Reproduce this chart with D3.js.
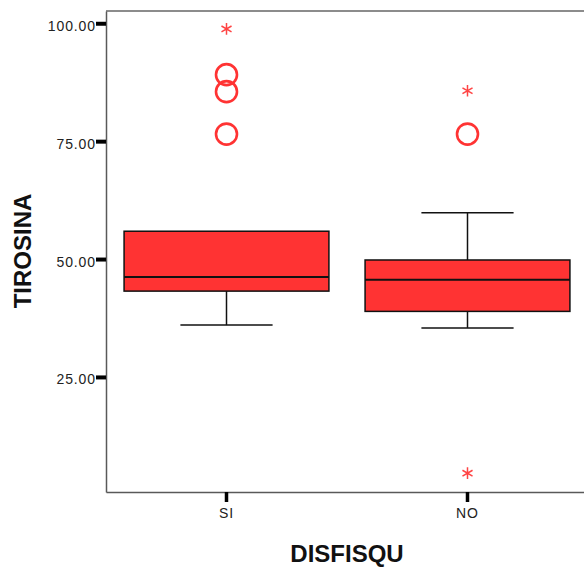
<!DOCTYPE html>
<html>
<head>
<meta charset="utf-8">
<script src="https://cdn.jsdelivr.net/npm/d3@7"></script>
<style>
  body { margin: 0; background: #fff; }
  svg { display: block; font-family: "Liberation Sans", Arial, sans-serif; }
</style>
</head>
<body>
<div id="chart"></div>
<script>
// box plot stats
const categories = ['SI', 'NO'];
const whiskerLow = [36.0, 35.4];
const q1 = [43.2, 38.9];
const median = [46.2, 45.6];
const q3 = [55.9, 49.8];
const whiskerHigh = [55.9, 59.8];
const outliers = [[89.1, 85.5, 76.5], [76.5]];   // circles
const extremes = [[98.8], [85.7, 4.6]];          // stars
const yTicks = [25, 50, 75, 100];

const width = 584, height = 568;
const plotLeft = 106, plotRight = 588, plotTop = 11, plotBottom = 492;
const red = '#ff3333';

const svg = d3.select('#chart').append('svg')
    .attr('width', width)
    .attr('height', height);

const xScale = d3.scaleBand()
    .domain(categories)
    .range([plotLeft, plotRight])
    .padding(0);

const yScale = d3.scaleLinear()
    .domain([0.6, 102.6])
    .range([plotBottom, plotTop]);

const boxW = xScale.bandwidth() * 0.85;
const capW = boxW * 0.45;

const boxes = categories.map((c, i) => ({
    cat: c, lo: whiskerLow[i], q1: q1[i], med: median[i], q3: q3[i], hi: whiskerHigh[i],
    out: outliers[i], ext: extremes[i]
}));

// frame
svg.append('line')
    .attr('x1', plotLeft).attr('x2', plotRight).attr('y1', plotTop).attr('y2', plotTop)
    .attr('stroke', '#666').attr('stroke-width', 1.5);

// y axis
const yAxis = svg.append('g')
    .attr('transform', 'translate(' + plotLeft + ',0)')
    .call(d3.axisLeft(yScale).tickValues(yTicks).tickFormat(d3.format('.2f')).tickSize(10).tickSizeOuter(0).tickPadding(0));
yAxis.select('.domain').attr('stroke', '#595959').attr('stroke-width', 1.5);
yAxis.selectAll('.tick line').attr('stroke', '#000').attr('stroke-width', 4);
yAxis.selectAll('.tick text')
    .attr('fill', '#222')
    .attr('dy', '0.5em')
    .style('font-size', '14px')
    .style('letter-spacing', '0.9px')
    .style('font-family', '"Liberation Sans", Arial, sans-serif');

// x axis
const xAxis = svg.append('g')
    .attr('transform', 'translate(0,' + plotBottom + ')')
    .call(d3.axisBottom(xScale).tickSize(10).tickSizeOuter(0).tickPadding(6));
xAxis.select('.domain').attr('stroke', '#595959').attr('stroke-width', 1.5);
xAxis.selectAll('.tick line').attr('stroke', '#000').attr('stroke-width', 3.5);
xAxis.selectAll('.tick text')
    .attr('fill', '#222')
    .style('font-size', '14px')
    .style('letter-spacing', '0.9px')
    .style('font-family', '"Liberation Sans", Arial, sans-serif');

// boxes
const g = svg.selectAll('.box')
    .data(boxes)
    .enter().append('g')
    .attr('class', 'box')
    .attr('transform', (d) => 'translate(' + (xScale(d.cat) + xScale.bandwidth() / 2) + ',0)');

g.append('line')
    .attr('x1', 0).attr('x2', 0)
    .attr('y1', (d) => yScale(d.hi)).attr('y2', (d) => yScale(d.lo))
    .attr('stroke', '#111').attr('stroke-width', 1.5);

g.filter((d) => d.hi > d.q3).append('line')
    .attr('x1', -capW / 2).attr('x2', capW / 2)
    .attr('y1', (d) => yScale(d.hi)).attr('y2', (d) => yScale(d.hi))
    .attr('stroke', '#111').attr('stroke-width', 1.5);

g.append('line')
    .attr('x1', -capW / 2).attr('x2', capW / 2)
    .attr('y1', (d) => yScale(d.lo)).attr('y2', (d) => yScale(d.lo))
    .attr('stroke', '#111').attr('stroke-width', 1.5);

g.append('rect')
    .attr('x', -boxW / 2)
    .attr('width', boxW)
    .attr('y', (d) => yScale(d.q3))
    .attr('height', (d) => yScale(d.q1) - yScale(d.q3))
    .attr('fill', red)
    .attr('stroke', '#111').attr('stroke-width', 1.5);

g.append('line')
    .attr('x1', -boxW / 2).attr('x2', boxW / 2)
    .attr('y1', (d) => yScale(d.med)).attr('y2', (d) => yScale(d.med))
    .attr('stroke', '#111').attr('stroke-width', 2);

// outliers
g.selectAll('circle')
    .data((d) => d.out)
    .enter().append('circle')
    .attr('cx', 0)
    .attr('cy', (v) => yScale(v))
    .attr('r', 10.5)
    .attr('fill', 'none')
    .attr('stroke', red).attr('stroke-width', 2.6);

g.selectAll('.star')
    .data((d) => d.ext)
    .enter().append('path')
    .attr('class', 'star')
    .attr('transform', (v) => 'translate(0,' + yScale(v) + ')')
    .attr('d', d3.symbol(d3.symbolAsterisk, 95))
    .attr('fill', 'none')
    .attr('stroke', '#ff4444').attr('stroke-width', 1.5);

// titles
svg.append('text')
    .attr('transform', 'translate(31,' + 251 + ') rotate(-90)')
    .attr('text-anchor', 'middle')
    .style('font-size', '24px')
    .style('font-weight', 'bold')
    .attr('fill', '#111')
    .text('TIROSINA');

svg.append('text')
    .attr('x', 347)
    .attr('y', 562)
    .attr('text-anchor', 'middle')
    .style('font-size', '24px')
    .style('font-weight', 'bold')
    .attr('fill', '#111')
    .text('DISFISQU');
</script>
</body>
</html>
